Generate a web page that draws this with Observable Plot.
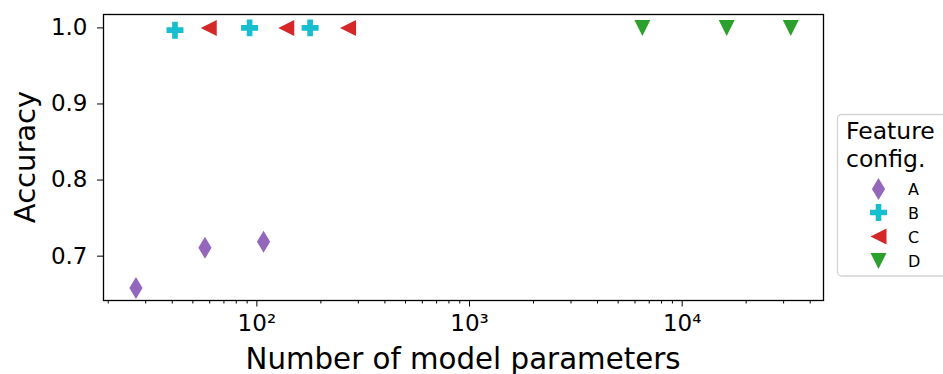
<!DOCTYPE html>
<html>
<head>
<meta charset="utf-8">
<script src="https://cdn.jsdelivr.net/npm/d3@7"></script>
<script src="https://cdn.jsdelivr.net/npm/@observablehq/plot@0.6"></script>
<style>
  body { margin: 0; background: #fff; }
  #chart svg { font-family: "DejaVu Sans", sans-serif; }
</style>
</head>
<body>
<div id="chart"></div>
<script>
// Feature configurations and their colours
const configs = ["A", "B", "C", "D"];
const configColors = ["#9467bd", "#17becf", "#d62728", "#2ca02c"];

// Model size (number of parameters) and accuracy per configuration
const paramsA = [27, 57, 107.5];
const accuracyA = [0.658, 0.711, 0.719];
const paramsB = [41.2, 92.4, 178];
const accuracyB = [0.997, 1.0, 1.0];
const paramsC = [59.4, 137.5, 268.5];
const accuracyC = [1.0, 1.0, 1.0];
const paramsD = [6500, 16200, 32400];
const accuracyD = [1.0, 1.0, 1.0];

// Axis ranges and ticks
const xDomain = [19, 46200];
const yDomain = [0.6417, 1.0176];
const yTicks = [0.7, 0.8, 0.9, 1.0];
const xMajorTicks = [100, 1000, 10000];
const xMajorLabels = ["10²", "10³", "10⁴"];
const xMinorTicks = [];
for (const decade of [10, 100, 1000, 10000]) {
  for (let m = 2; m <= 9; m++) {
    const v = m * decade;
    if (v >= xDomain[0] && v <= xDomain[1]) xMinorTicks.push(v);
  }
}

const rows = [];
[[paramsA, accuracyA], [paramsB, accuracyB], [paramsC, accuracyC], [paramsD, accuracyD]]
  .forEach(([ps, as], i) => ps.forEach((p, j) => rows.push({config: configs[i], params: p, accuracy: as[j]})));

// Marker shapes (size = r²π, so r is the nominal half-extent)
const thinDiamond = {
  draw(ctx, size) {
    const r = Math.sqrt(size / Math.PI), h = 1.375 * r, w = 0.6 * h;
    ctx.moveTo(0, -h); ctx.lineTo(w, 0); ctx.lineTo(0, h); ctx.lineTo(-w, 0); ctx.closePath();
  }
};
const plusFilled = {
  draw(ctx, size) {
    const r = Math.sqrt(size / Math.PI) * 1.06, a = r / 3;
    ctx.moveTo(-a, -r); ctx.lineTo(a, -r); ctx.lineTo(a, -a); ctx.lineTo(r, -a);
    ctx.lineTo(r, a); ctx.lineTo(a, a); ctx.lineTo(a, r); ctx.lineTo(-a, r);
    ctx.lineTo(-a, a); ctx.lineTo(-r, a); ctx.lineTo(-r, -a); ctx.lineTo(-a, -a); ctx.closePath();
  }
};
const triangleLeft = {
  draw(ctx, size) {
    const r = Math.sqrt(size / Math.PI);
    ctx.moveTo(-r, 0); ctx.lineTo(r, -r); ctx.lineTo(r, r); ctx.closePath();
  }
};
const triangleDown = {
  draw(ctx, size) {
    const r = Math.sqrt(size / Math.PI);
    ctx.moveTo(0, r); ctx.lineTo(-r, -r); ctx.lineTo(r, -r); ctx.closePath();
  }
};
const configSymbols = [thinDiamond, plusFilled, triangleLeft, triangleDown];
const markerR = 8;

const chart = Plot.plot({
  width: 943,
  height: 374,
  marginLeft: 103,
  marginRight: 120,
  marginTop: 14,
  marginBottom: 74,
  style: {fontFamily: "DejaVu Sans, sans-serif", color: "#000", background: "#fff"},
  x: {type: "log", domain: xDomain},
  y: {domain: yDomain},
  color: {domain: configs, range: configColors},
  symbol: {domain: configs, range: configSymbols},
  marks: [
    Plot.axisY({ticks: yTicks, tickFormat: d3.format(".1f"), tickSize: 6, tickPadding: 10, fontSize: 23, label: null}),
    Plot.axisX({ticks: xMinorTicks, tickFormat: () => "", tickSize: 3.5, label: null}),
    Plot.axisX({ticks: xMajorTicks, tickFormat: (d) => xMajorLabels[xMajorTicks.indexOf(d)], tickSize: 6.5, tickPadding: 8, fontSize: 23, label: null}),
    Plot.dot(rows, {x: "params", y: "accuracy", symbol: "config", fill: "config", r: markerR, stroke: "none"}),
    Plot.frame({stroke: "#000", strokeWidth: 1.3})
  ]
});

const svg = d3.select(chart);

// Axis titles
svg.append("text")
  .attr("x", 463).attr("y", 369)
  .attr("text-anchor", "middle")
  .attr("font-size", 29.3)
  .attr("fill", "#000")
  .text("Number of model parameters");
svg.append("text")
  .attr("transform", "translate(35,157) rotate(-90)")
  .attr("text-anchor", "middle")
  .attr("font-size", 29)
  .attr("fill", "#000")
  .text("Accuracy");

// Legend
const legend = svg.append("g").attr("text-anchor", "start");
legend.append("rect")
  .attr("x", 837.5).attr("y", 114.5).attr("width", 130).attr("height", 161.5)
  .attr("rx", 4).attr("fill", "#fff").attr("stroke", "#d4d4d4").attr("stroke-width", 1.3);
legend.append("text").attr("x", 846).attr("y", 138.5).attr("font-size", 23.5).attr("fill", "#000").text("Feature");
legend.append("text").attr("x", 846).attr("y", 166.5).attr("font-size", 23.5).attr("fill", "#000").text("config.");
const entryY = [189, 212.5, 236.5, 261];
configs.forEach((c, i) => {
  legend.append("path")
    .attr("transform", `translate(878.5,${entryY[i]})`)
    .attr("d", d3.symbol(configSymbols[i], Math.PI * markerR * markerR)())
    .attr("fill", configColors[i]);
  legend.append("text")
    .attr("x", 908).attr("y", entryY[i] + 6)
    .attr("font-size", 16).attr("fill", "#000")
    .text(c);
});

document.getElementById("chart").append(chart);
</script>
</body>
</html>
